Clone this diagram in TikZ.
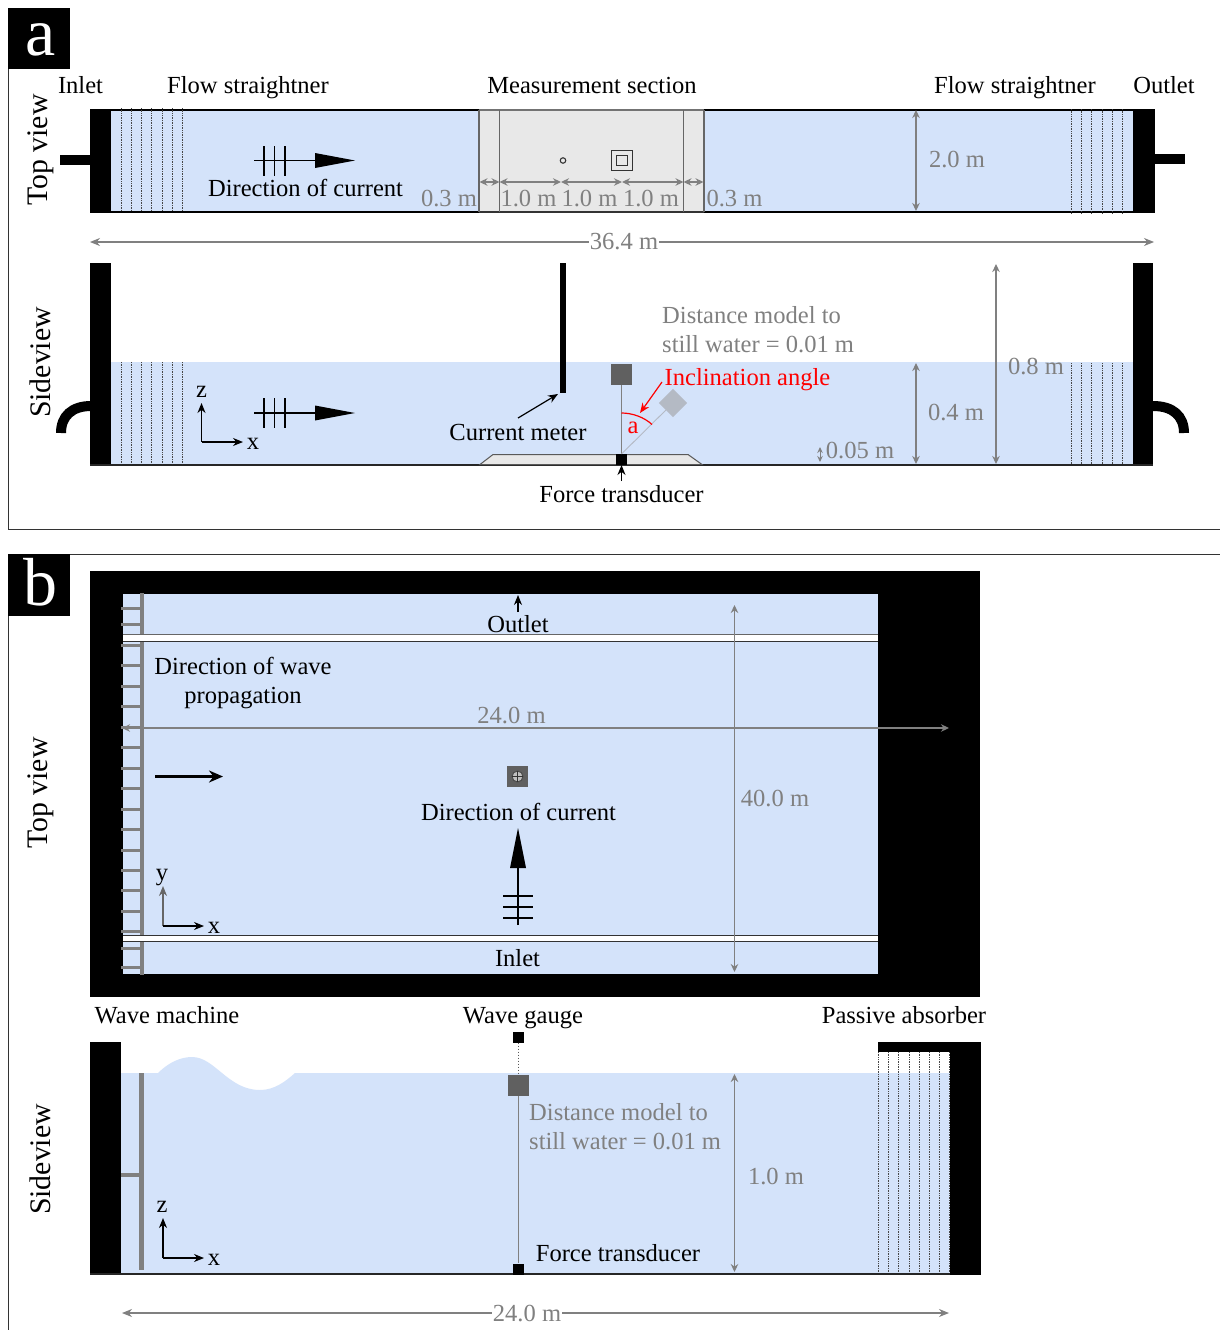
\documentclass[tikz,border=0pt]{standalone}
\usepackage{fontspec}
\setmainfont{Liberation Serif}
\usetikzlibrary{arrows.meta}
\definecolor{water}{HTML}{D4E3FA}
\definecolor{sect}{HTML}{E8E8E8}
\definecolor{dimg}{HTML}{808080}
\definecolor{modelg}{HTML}{606060}
\definecolor{modelf}{HTML}{B4BAC4}
\tikzset{
  lbl/.style={font=\fontsize{24.55}{28}\selectfont,inner sep=0pt,anchor=base,text=black},
  glbl/.style={lbl,text=dimg},
  rlbl/.style={lbl,text=red},
  vlbl/.style={font=\fontsize{29.8}{32}\selectfont,inner sep=0pt,anchor=center,rotate=90},
  panel/.style={font=\fontsize{68}{72}\selectfont,inner sep=0pt,anchor=base,text=white},
  dimline/.style={draw=dimg,line width=1.2pt,{Stealth[length=8pt,width=7.5pt]}-{Stealth[length=8pt,width=7.5pt]}},
  dimhalf/.style={draw=dimg,line width=1.2pt,{Stealth[length=10pt,width=8pt]}-},
  axis/.style={draw=black,line width=1.2pt,{Stealth[length=10pt,width=8pt]}-},
  axisg/.style={draw=dimg,line width=1.2pt,{Stealth[length=10pt,width=8pt]}-},
  pointer/.style={draw=black,line width=1.2pt,-{Stealth[length=10pt,width=8pt]}},
  redptr/.style={draw=red,line width=1.2pt,-{Stealth[length=10pt,width=8pt]}},
  straight/.style={draw=black!72,line width=1pt,dash pattern=on 1pt off .7pt},
  blk/.style={fill=black,draw=none},
  sq/.style={inner sep=0pt,draw=none,minimum size=#1},
}
\begin{document}
\begin{tikzpicture}[x=1pt,y=-1pt]
\useasboundingbox (0,0) rectangle (1220,1330);
\fill[white] (0,0) rectangle (1220,1330);

% ---------- frames
\draw[line width=1pt,draw=black!80] (8.5,69) -- (8.5,529) -- (1220,529);
\draw[line width=1pt,draw=black!80] (8.5,616) -- (8.5,1330);
\draw[line width=1pt,draw=black!80] (70,554.5) -- (1220,554.5);
\fill[black] (8,8) rectangle (70,69);
\fill[black] (8,554) rectangle (70,616);
\node[panel] (pa) at (40.5,56) {a};
\node[panel] (pb) at (40.5,605) {b};

% ---------- a, top view
\fill[water] (111,110) rectangle (479,212);
\fill[water] (704,110) rectangle (1133,212);
\fill[sect] (479,110) rectangle (704,212);
\draw[line width=2pt] (111,110) -- (479,110) (704,110) -- (1133,110);
\draw[line width=2pt] (111,212) -- (479,212) (704,212) -- (1133,212);
\draw[line width=2pt,draw=black!55] (479,110) -- (704,110);
\draw[line width=2pt,draw=black!80] (479,212) -- (704,212);
\foreach \x in {479,499.5,683.5,704}{\draw[line width=1.2pt,draw=black!60] (\x,110) -- (\x,212);}
\fill[blk] (90,109) rectangle (111,213);
\fill[blk] (1133,109) rectangle (1155,213);
\fill[blk] (60,155) rectangle (90,165);
\fill[blk] (1155,154) rectangle (1185,164);
\foreach \x in {121,131.3,141.6,151.9,162.2,172.5,182.8}{\draw[straight] (\x,108) -- (\x,211);}
\foreach \x in {1071,1081.3,1091.7,1102,1112.3,1122.7}{\draw[straight] (\x,109) -- (\x,213);}

\node[lbl] (inletA) at (80.5,93) {Inlet};
\node[lbl] (flowA) at (248,93) {Flow straightner};
\node[lbl] (measA) at (592,93) {Measurement section};
\node[lbl] (flowB) at (1015,93) {Flow straightner};
\node[lbl] (outletA) at (1164,93) {Outlet};
\node[vlbl] (topA) at (41,150) {Top view};
\node[vlbl] (sideA) at (40.5,362.5) {Sideview};

% current arrow, top
\coordinate (cuA1) at (254,160.5);
\coordinate (cuA2) at (320,160.5);
\draw[line width=1.6pt] (cuA1) -- (cuA2);
\fill[black] (315,153) -- (355,160.5) -- (315,168) -- cycle;
\foreach \x in {264,274.5,285}{\draw[line width=1.6pt] (\x,146) -- (\x,176);}
\node[lbl] (dirA) at (305.5,196) {Direction of current};

% instruments, top
\node[circle,draw=black!80,line width=1.1pt,inner sep=0pt,minimum size=5.5pt] (cmT) at (563,160.5) {};
\node[draw=black!80,line width=1.2pt,inner sep=0pt,minimum size=20.5pt,fill=none] (mdT) at (622,160.5) {};
\node[draw=black!80,line width=1.2pt,inner sep=0pt,minimum size=10.5pt,fill=none] (mdTi) at (622,160.5) {};

% section dimensions
\coordinate (s0) at (479.5,182);
\coordinate (s1) at (499.5,182);
\coordinate (s2) at (561,182);
\coordinate (s3) at (622,182);
\coordinate (s4) at (683.5,182);
\coordinate (s5) at (703.5,182);
\draw[dimline] (s0) -- (s1);
\draw[dimline] (s1) -- (s2);
\draw[dimline] (s2) -- (s3);
\draw[dimline] (s3) -- (s4);
\draw[dimline] (s4) -- (s5);
\node[glbl] (d03a) at (449,206) {0.3 m};
\node[glbl] (d10a) at (528.5,206.5) {1.0 m};
\node[glbl] (d10b) at (589.5,206.5) {1.0 m};
\node[glbl] (d10c) at (651,206.5) {1.0 m};
\node[glbl] (d03b) at (734.5,206.5) {0.3 m};
\coordinate (wT) at (916,110);
\coordinate (wB) at (916,211);
\draw[dimline] (wT) -- (wB);
\node[glbl] (d20) at (957,167) {2.0 m};
% total length
\coordinate (lL) at (90,242);
\coordinate (lR) at (1154,242);
\node[font=\fontsize{24.55}{28}\selectfont,text=dimg,inner sep=0.5pt,anchor=center] (d364) at (624,242) {36.4 m};
\draw[dimhalf] (lL) -- (d364);
\draw[dimhalf] (lR) -- (d364);

% ---------- a, side view
\fill[water] (111,362) rectangle (1133,465);
\fill[blk] (90,263) rectangle (111,465);
\fill[blk] (1133,263) rectangle (1153,465);
\draw[line width=1.8pt,draw=black!85] (90,465) -- (1153,465);
\draw[line width=10pt] (91,406) .. controls (72,406) and (61,416) .. (61,433);
\draw[line width=10pt] (1153,406) .. controls (1173,406) and (1184,416) .. (1184,433);
\foreach \x in {121,131.3,141.6,151.9,162.2,172.5,182.8}{\draw[straight] (\x,362) -- (\x,464);}
\foreach \x in {1071,1081.3,1091.7,1102,1112.3,1122.7}{\draw[straight] (\x,363) -- (\x,464);}
\filldraw[fill=sect,draw=black!65,line width=1pt] (480,464.5) -- (493,454.5) -- (688,454.5) -- (702,464.5) -- cycle;
\fill[blk] (560,263) rectangle (566,393);

\coordinate (cuB1) at (254,413);
\coordinate (cuB2) at (320,413);
\draw[line width=1.6pt] (cuB1) -- (cuB2);
\fill[black] (315,405.5) -- (355,413) -- (315,420.5) -- cycle;
\foreach \x in {264,274.5,285}{\draw[line width=1.6pt] (\x,398) -- (\x,428);}

% axes z-x
\coordinate (oA) at (201.5,442);
\coordinate (oAz) at (201.5,403);
\coordinate (oAx) at (243,442);
\draw[axis] (oAz) -- (oA);
\draw[axis] (oAx) -- (oA);
\node[lbl] (zA) at (201.5,397) {z};
\node[lbl] (xA) at (253,449) {x};

% model
\node[sq=21pt,fill=modelg] (mdA) at (621.5,374.5) {};
\node[sq=11pt,fill=black] (ftA) at (621.5,459.5) {};
\draw[line width=1.1pt,draw=dimg] (mdA) -- (ftA);
\node[sq=20pt,fill=modelf,rotate=45] (mdB) at (673,403) {};
\coordinate (pivot) at (621.5,454);
\draw[line width=.9pt,draw=modelf] (pivot) -- (mdB);
\draw[line width=1.2pt,draw=red] (621.5,413) .. controls (632,413) and (644,417) .. (652,424.5);
\node[rlbl] (alpha) at (633,433) {a};
\coordinate (rp1) at (662,382);
\coordinate (rp2) at (640,413);
\draw[redptr] (rp1) -- (rp2);
\node[rlbl] (incl) at (747.5,385) {Inclination angle};
\node[glbl,anchor=base west] (dsA1) at (662,323) {Distance model to};
\node[glbl,anchor=base west] (dsA2) at (662,352) {still water = 0.01 m};

% current meter
\node[lbl] (cmlbl) at (518,440) {Current meter};
\coordinate (cm1) at (518,418);
\coordinate (cm2) at (558,394);
\draw[pointer] (cm1) -- (cm2);
\node[lbl] (ftlbl) at (621.5,502) {Force transducer};
\coordinate (ft1) at (621.5,481);
\coordinate (ft2) at (621.5,465);
\draw[pointer] (ft1) -- (ft2);

% dims
\coordinate (d1T) at (916,363);
\coordinate (d1B) at (916,464);
\draw[dimline] (d1T) -- (d1B);
\node[glbl] (d04) at (956,420) {0.4 m};
\coordinate (d2T) at (996,264);
\coordinate (d2B) at (996,464);
\draw[dimline] (d2T) -- (d2B);
\node[glbl] (d08) at (1036,374) {0.8 m};
\coordinate (d3T) at (820,447);
\coordinate (d3B) at (820,462);
\draw[draw=dimg,line width=1pt,{Stealth[length=6pt,width=5.5pt]}-{Stealth[length=6pt,width=5.5pt]}] (d3T) -- (d3B);
\node[glbl] (d005) at (860,458) {0.05 m};

% ---------- b, top view
\fill[blk] (90,571) rectangle (980,997);
\fill[water] (123,594) rectangle (878,974);
\foreach \y in {608,624,645,665.5,686,706.5,727,747.5,768,788.5,809,829.5,850,870.5,890.5,911,931,948,967}{\draw[line width=3pt,draw=dimg] (121,\y) -- (140,\y);}
\fill[dimg] (139.5,593) rectangle (144,636);
\fill[dimg] (139.5,642) rectangle (143.5,935);
\fill[dimg] (139.5,941) rectangle (144,975);
\fill[white] (123,634) rectangle (878,641);
\draw[line width=1pt,draw=black!60] (123,634.5) -- (878,634.5);
\draw[line width=1pt,draw=black!80] (123,641) -- (878,641);
\fill[white] (123,935.5) rectangle (878,941.5);
\draw[line width=1pt,draw=black!80] (123,935.5) -- (878,935.5);
\draw[line width=1pt,draw=black!80] (123,941.5) -- (878,941.5);

\node[vlbl] (topB) at (41,793) {Top view};
\node[vlbl] (sideB) at (40.5,1159.5) {Sideview};
\node[lbl] (outB) at (518,632.5) {Outlet};
\coordinate (oP1) at (518,612);
\coordinate (oP2) at (518,595);
\draw[pointer] (oP1) -- (oP2);
\node[lbl] (dirW1) at (243,674) {Direction of wave};
\node[lbl] (dirW2) at (243,703) {propagation};
\node[lbl] (inB) at (517.5,966) {Inlet};
\node[glbl] (d24a) at (511.5,723) {24.0 m};
\coordinate (h1L) at (122,728);
\coordinate (h1R) at (949,728);
\draw[dimline] (h1L) -- (h1R);
\coordinate (wv1) at (155,776.5);
\coordinate (wv2) at (223,776.5);
\draw[line width=2.5pt,-{Stealth[length=14pt,width=12pt]}] (wv1) -- (wv2);
\node[sq=21pt,fill=modelg] (mdC) at (517.5,776.5) {};
\node[circle,fill=black!25,draw=black!70,line width=1pt,inner sep=0pt,minimum size=11pt] (mdCc) at (517.5,776.5) {};
\draw[line width=.8pt,draw=black!80] (512,776.5) -- (523,776.5) (517.5,771) -- (517.5,782);
\node[glbl] (d40) at (775,806) {40.0 m};
\coordinate (v1T) at (734.5,605);
\coordinate (v1B) at (734.5,972);
\draw[dimline] (v1T) -- (v1B);
\node[lbl] (dirC) at (518.5,820) {Direction of current};
\coordinate (cc1) at (518,925);
\coordinate (cc2) at (518,865);
\draw[line width=1.8pt] (cc1) -- (cc2);
\fill[black] (510,868) -- (518,828) -- (526,868) -- cycle;
\foreach \y in {896,907,918}{\draw[line width=1.6pt] (503,\y) -- (533,\y);}
% axes y-x
\coordinate (oB) at (163,926);
\coordinate (oBy) at (163,886);
\coordinate (oBx) at (204,926);
\draw[axisg,draw=black!60,fill=black] (oBy) -- (oB);
\draw[axis] (oBx) -- (oB);
\node[lbl] (yB) at (162,880) {y};
\node[lbl] (xB) at (214,933) {x};

% ---------- b, side view
\node[lbl] (wmlbl) at (167,1023) {Wave machine};
\node[lbl] (wglbl) at (523,1023) {Wave gauge};
\node[lbl] (palbl) at (904,1023) {Passive absorber};
\fill[water] (121,1073) -- (158,1073) .. controls (168,1063) and (180,1057) .. (192,1057)
  .. controls (215,1057) and (228,1090) .. (260,1090)
  .. controls (274,1090) and (285,1082) .. (295,1073) -- (950,1073) -- (950,1274) -- (121,1274) -- cycle;
\fill[blk] (90,1042) rectangle (121,1274.5);
\fill[blk] (950,1042) rectangle (981,1274.5);
\fill[blk] (878,1042) rectangle (950,1052);
\draw[line width=1.8pt,draw=black!85] (90,1274) -- (950,1274);
\fill[dimg] (139,1073) rectangle (144,1270);
\fill[dimg] (121,1173) rectangle (139,1177);
\foreach \x in {878.3,888.5,898.8,909,919.2,929.4,939.6,949.8}{\draw[straight] (\x,1052) -- (\x,1272);}
% gauge and model
\node[sq=11pt,fill=black] (gauge) at (518.5,1037) {};
\node[sq=21pt,fill=modelg] (mdD) at (518.5,1085.5) {};
\node[sq=11pt,fill=black] (ftD) at (518.5,1269) {};
\draw[line width=.9pt,draw=black!65,dash pattern=on 1.5pt off 1.5pt] (gauge) -- (mdD);
\draw[line width=1.1pt,draw=dimg] (mdD) -- (ftD);
\node[glbl,anchor=base west] (dsB1) at (529,1120.5) {Distance model to};
\node[glbl,anchor=base west] (dsB2) at (529,1149.5) {still water = 0.01 m};
\node[glbl] (d10v) at (776,1184) {1.0 m};
\coordinate (v2T) at (734.5,1074);
\coordinate (v2B) at (734.5,1272);
\draw[dimline] (v2T) -- (v2B);
\node[lbl] (ftB) at (618,1261) {Force transducer};
% axes z-x
\coordinate (oC) at (163,1258);
\coordinate (oCz) at (163,1218);
\coordinate (oCx) at (204,1258);
\draw[axis] (oCz) -- (oC);
\draw[axis] (oCx) -- (oC);
\node[lbl] (zC) at (162,1212) {z};
\node[lbl] (xC) at (214,1265) {x};
% length
\coordinate (h2L) at (122,1313);
\coordinate (h2R) at (949,1313);
\node[font=\fontsize{24.55}{28}\selectfont,text=dimg,inner sep=0.5pt,anchor=center] (d24b) at (527,1313) {24.0 m};
\draw[dimhalf] (h2L) -- (d24b);
\draw[dimhalf] (h2R) -- (d24b);
\end{tikzpicture}
\end{document}
